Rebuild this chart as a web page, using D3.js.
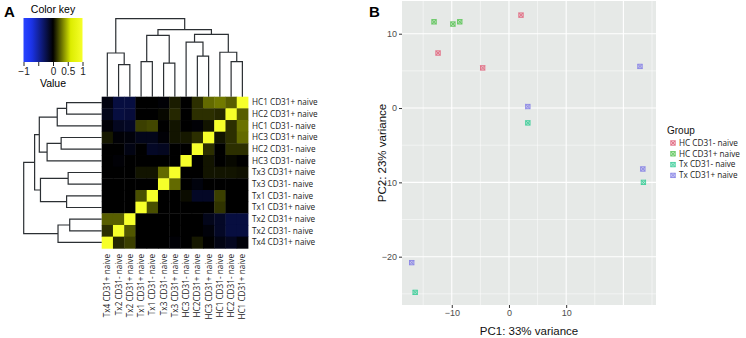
<!DOCTYPE html>
<html>
<head>
<meta charset="utf-8">
<script src="https://cdn.jsdelivr.net/npm/d3@7"></script>
<style>
  body { margin: 0; background: #fff; }
  svg { display: block; }
</style>
</head>
<body>
<div id="chart"></div>
<script>
// ---- Panel A data ----
// heatmap rows, top to bottom
const rowLabels = ["HC1 CD31+ naive", "HC2 CD31+ naive", "HC1 CD31- naive", "HC3 CD31+ naive",
  "HC2 CD31- naive", "HC3 CD31- naive", "Tx3 CD31+ naive", "Tx3 CD31- naive", "Tx1 CD31- naive",
  "Tx1 CD31+ naive", "Tx2 CD31+ naive", "Tx2 CD31- naive", "Tx4 CD31+ naive"];
// heatmap columns, left to right
const colLabels = ["Tx4 CD31+ naive", "Tx2 CD31- naive", "Tx2 CD31+ naive", "Tx1 CD31+ naive",
  "Tx1 CD31- naive", "Tx3 CD31- naive", "Tx3 CD31+ naive", "HC3 CD31- naive", "HC2CD31+ naive",
  "HC3 CD31+ naive", "HC1 CD31- naive", "HC2 CD31- naive", "HC1 CD31+ naive"];
// correlation values, one array per row
const corr = [
  [-0.05, -0.2, -0.2, 0, 0, -0.02, 0.07, 0, 0.12, 0.27, 0.31, 0.24, 1],
  [-0.08, -0.2, -0.18, 0, 0, 0.02, 0.1, 0, 0.12, 0.12, 0.1, 1, 0.24],
  [-0.02, -0.1, -0.12, 0.16, 0.18, 0, 0.05, 0, -0.02, 0.05, 1, 0.12, 0.29],
  [0.06, -0.02, -0.03, -0.08, -0.08, -0.02, 0.05, 0.06, 0.12, 1, 0.05, 0.12, 0.27],
  [0, 0, -0.06, 0, -0.12, -0.1, 0, 0, 1, 0.12, 0, 0.12, 0.12],
  [0, -0.02, 0, 0, 0, 0, 0, 1, 0, 0.05, 0, 0.02, 0],
  [0, 0, 0, 0.05, 0.05, 0.27, 1, 0, 0, 0.05, 0.05, 0.05, 0.04],
  [0, 0, 0, 0, 0, 1, 0.27, 0, -0.04, 0, 0, 0, 0],
  [0, 0, 0, 0.2, 1, 0, 0, 0.03, -0.12, -0.12, 0.16, 0, 0],
  [0, 0, 0, 1, 0.2, 0, 0, 0, 0, 0, 0.13, 0, 0],
  [0.24, 0.24, 1, 0, 0, 0, 0, 0, 0, -0.08, -0.12, -0.2, -0.2],
  [0.12, 1, 0.22, 0, 0, 0, 0, 0, 0, -0.03, -0.12, -0.2, -0.2],
  [1, 0.1, 0.16, 0, 0, 0, -0.02, 0, 0.06, 0, -0.06, -0.1, -0.03]
];
// clustering, R style: negative = row leaf (-(i+1)), positive = earlier merge (1-based)
const merges = [
  [-1, -2, 0.45], [1, -3, 0.57], [-4, -5, 0.52], [3, -6, 0.70], [2, 4, 0.80],
  [-7, -8, 0.43], [-9, -10, 0.45], [6, 7, 0.785], [5, 8, 0.86],
  [-11, -12, 0.41], [10, -13, 0.56], [9, 11, 1.0]
];
const keyTicks = [-1, -0.5, 0, 0.5, 1];
const keyTickLabels = ["\u22121", "", "0", "0.5", "1"];

// ---- Panel B data ----
const groups = ["HC CD31- naive", "HC CD31+ naive", "Tx CD31- naive", "Tx CD31+ naive"];
const groupColors = ["#e26f86", "#62c65e", "#43cf9c", "#8a86e6"];
const pcaGroup = ["HC CD31- naive", "HC CD31- naive", "HC CD31- naive",
  "HC CD31+ naive", "HC CD31+ naive", "HC CD31+ naive",
  "Tx CD31- naive", "Tx CD31- naive", "Tx CD31- naive",
  "Tx CD31+ naive", "Tx CD31+ naive", "Tx CD31+ naive", "Tx CD31+ naive"];
const pc1 = [2.1, -12.4, -4.6, -13.1, -9.8, -8.6, 3.3, -16.4, 23.5, 3.3, -17.0, 23.4, 22.9];
const pc2 = [12.5, 7.4, 5.4, 11.6, 11.3, 11.6, -2.0, -24.8, -10.0, 0.2, -20.8, -8.2, 5.6];
const xTicks = [-10, 0, 10];
const yTicks = [-20, -10, 0, 10];

const W = 746, H = 338;
const svg = d3.select("#chart").append("svg").attr("width", W).attr("height", H);

// panel letters
svg.append("text").attr("x", 4).attr("y", 17).text("A")
  .attr("font-family", "Liberation Sans, Arial").attr("font-weight", "bold").attr("font-size", 15);
svg.append("text").attr("x", 369).attr("y", 17).text("B")
  .attr("font-family", "Liberation Sans, Arial").attr("font-weight", "bold").attr("font-size", 15);

// ================= heatmap =================
const hx = d3.scaleBand().domain(d3.range(13)).range([101.7, 248]);
const hy = d3.scaleBand().domain(d3.range(13)).range([96.7, 248.3]);
const color = d3.scaleLinear()
  .domain([-1, -0.75, 0, 0.6, 1])
  .range(["#2a44ff", "#1c34f0", "#000000", "#dcec00", "#f6ff2a"]);

const cells = [];
corr.forEach((row, i) => row.forEach((v, j) => cells.push({ i, j, v })));
svg.append("g").selectAll("rect").data(cells).join("rect")
  .attr("x", d => hx(d.j)).attr("y", d => hy(d.i))
  .attr("width", hx.bandwidth() + 0.4).attr("height", hy.bandwidth() + 0.4)
  .attr("fill", d => color(d.v));

// row labels
svg.append("g").selectAll("text").data(rowLabels).join("text")
  .attr("x", 252).attr("y", (d, i) => hy(i) + hy.bandwidth() / 2)
  .attr("dy", "0.35em")
  .attr("font-family", "Open Sans, sans-serif").attr("font-size", 8.2).attr("fill", "#222")
  .text(d => d);

// column labels
svg.append("g").selectAll("text").data(colLabels).join("text")
  .attr("transform", (d, j) => `translate(${hx(j) + hx.bandwidth() / 2 + 3},254) rotate(-90)`)
  .attr("text-anchor", "end")
  .attr("font-family", "Open Sans, sans-serif").attr("font-size", 8.2).attr("fill", "#222")
  .text(d => d);

// dendrograms
const dh = d3.scaleLinear().domain([0, 1]).range([0, 78]);
function drawDendro(leafPos, place) {
  // leafPos(i) -> position along heatmap edge; place(pos, h) -> [x, y]
  const nodes = [];
  const ref = k => k < 0 ? { p: leafPos(-k - 1), h: 0 } : nodes[k - 1];
  const path = d3.path();
  merges.forEach(([a, b, h]) => {
    const A = ref(a), B = ref(b);
    let p0 = place(A.p, A.h); path.moveTo(p0[0], p0[1]);
    let p1 = place(A.p, h); path.lineTo(p1[0], p1[1]);
    let p2 = place(B.p, h); path.lineTo(p2[0], p2[1]);
    let p3 = place(B.p, B.h); path.lineTo(p3[0], p3[1]);
    nodes.push({ p: (A.p + B.p) / 2, h });
  });
  svg.append("path").attr("d", path.toString())
    .attr("fill", "none").attr("stroke", "#2b2f33").attr("stroke-width", 1.2);
}
// left (rows)
drawDendro(i => hy(i) + hy.bandwidth() / 2, (p, h) => [101.7 - dh(h), p]);
// top (columns are the rows in reverse order)
drawDendro(i => hx(12 - i) + hx.bandwidth() / 2, (p, h) => [p, 96.7 - dh(h)]);

// color key
const kx = d3.scaleLinear().domain([-1, 1]).range([23.5, 82.5]);
const grad = svg.append("defs").append("linearGradient").attr("id", "keygrad");
d3.range(0, 1.0001, 0.05).forEach(t => {
  grad.append("stop").attr("offset", t).attr("stop-color", color(-1 + 2 * t));
});
svg.append("rect").attr("x", kx(-1)).attr("y", 18).attr("width", kx(1) - kx(-1)).attr("height", 44)
  .attr("fill", "url(#keygrad)");
const kAxis = svg.append("g").attr("transform", "translate(0,62)")
  .call(d3.axisBottom(kx).tickValues(keyTicks).tickFormat((d, i) => keyTickLabels[i]).tickSize(4).tickPadding(2));
kAxis.select(".domain").remove();
kAxis.selectAll("line").attr("stroke", "#222");
kAxis.selectAll("text").attr("font-family", "Liberation Sans, Arial").attr("font-size", 10).attr("fill", "#222");
svg.append("text").attr("x", 53).attr("y", 13).attr("text-anchor", "middle")
  .attr("font-family", "Liberation Sans, Arial").attr("font-size", 10.5).text("Color key");
svg.append("text").attr("x", 53).attr("y", 87).attr("text-anchor", "middle")
  .attr("font-family", "Liberation Sans, Arial").attr("font-size", 10.5).text("Value");

// ================= PCA =================
const px = d3.scaleLinear().domain([-18.7, 25.7]).range([402, 656]);
const py = d3.scaleLinear().domain([-26.5, 14.4]).range([305, 1]);

svg.append("rect").attr("x", px.range()[0]).attr("y", py.range()[1])
  .attr("width", px.range()[1] - px.range()[0]).attr("height", py.range()[0] - py.range()[1])
  .attr("fill", "#e6e9e7");

const grid = svg.append("g").attr("stroke", "#fff");
[-15, -5, 5, 15, 25].forEach(v => grid.append("line")
  .attr("x1", px(v)).attr("x2", px(v)).attr("y1", py.range()[0]).attr("y2", py.range()[1]).attr("stroke-width", 0.5));
[-25, -15, -5, 5].forEach(v => grid.append("line")
  .attr("y1", py(v)).attr("y2", py(v)).attr("x1", px.range()[0]).attr("x2", px.range()[1]).attr("stroke-width", 0.5));
[-10, 0, 10, 20].forEach(v => grid.append("line")
  .attr("x1", px(v)).attr("x2", px(v)).attr("y1", py.range()[0]).attr("y2", py.range()[1]).attr("stroke-width", 1.1));
yTicks.forEach(v => grid.append("line")
  .attr("y1", py(v)).attr("y2", py(v)).attr("x1", px.range()[0]).attr("x2", px.range()[1]).attr("stroke-width", 1.1));

const xa = svg.append("g").attr("transform", "translate(0,305)")
  .call(d3.axisBottom(px).tickValues(xTicks).tickFormat(d => d < 0 ? "\u2212" + (-d) : d).tickSize(3).tickPadding(2));
const ya = svg.append("g").attr("transform", "translate(402,0)")
  .call(d3.axisLeft(py).tickValues(yTicks).tickFormat(d => d < 0 ? "\u2212" + (-d) : d).tickSize(3).tickPadding(2));
[xa, ya].forEach(a => {
  a.select(".domain").remove();
  a.selectAll("line").attr("stroke", "#333");
  a.selectAll("text").attr("font-family", "Liberation Sans, Arial").attr("font-size", 9).attr("fill", "#4d4d4d");
});

svg.append("text").attr("x", px(3.5)).attr("y", 335).attr("text-anchor", "middle")
  .attr("font-family", "Liberation Sans, Arial").attr("font-size", 11.5).attr("fill", "#111")
  .text("PC1: 33% variance");
svg.append("text").attr("transform", `translate(386,${(py.range()[0] + py.range()[1]) / 2}) rotate(-90)`)
  .attr("text-anchor", "middle")
  .attr("font-family", "Liberation Sans, Arial").attr("font-size", 11.5).attr("fill", "#111")
  .text("PC2: 23% variance");

const gColor = d3.scaleOrdinal().domain(groups).range(groupColors);
function marker(g, cx, cy, c) {
  const s = 2.2;
  g.append("rect").attr("x", cx - s).attr("y", cy - s).attr("width", 2 * s).attr("height", 2 * s)
    .attr("fill", c).attr("fill-opacity", 0.35).attr("stroke", c).attr("stroke-width", 0.9);
  g.append("path").attr("d", `M${cx - s},${cy - s}L${cx + s},${cy + s}M${cx + s},${cy - s}L${cx - s},${cy + s}`)
    .attr("stroke", c).attr("stroke-width", 0.9);
}
const pts = svg.append("g");
pc1.forEach((v, i) => marker(pts, px(v), py(pc2[i]), gColor(pcaGroup[i])));

// legend
const lg = svg.append("g");
lg.append("text").attr("x", 667).attr("y", 134).text("Group")
  .attr("font-family", "Liberation Sans, Arial").attr("font-size", 10).attr("fill", "#111");
groups.forEach((g, i) => {
  const y = 143 + i * 10.8;
  marker(lg, 673, y, gColor(g));
  lg.append("text").attr("x", 679).attr("y", y).attr("dy", "0.35em").text(g)
    .attr("font-family", "Open Sans, sans-serif").attr("font-size", 8.2).attr("fill", "#222");
});
</script>
</body>
</html>
